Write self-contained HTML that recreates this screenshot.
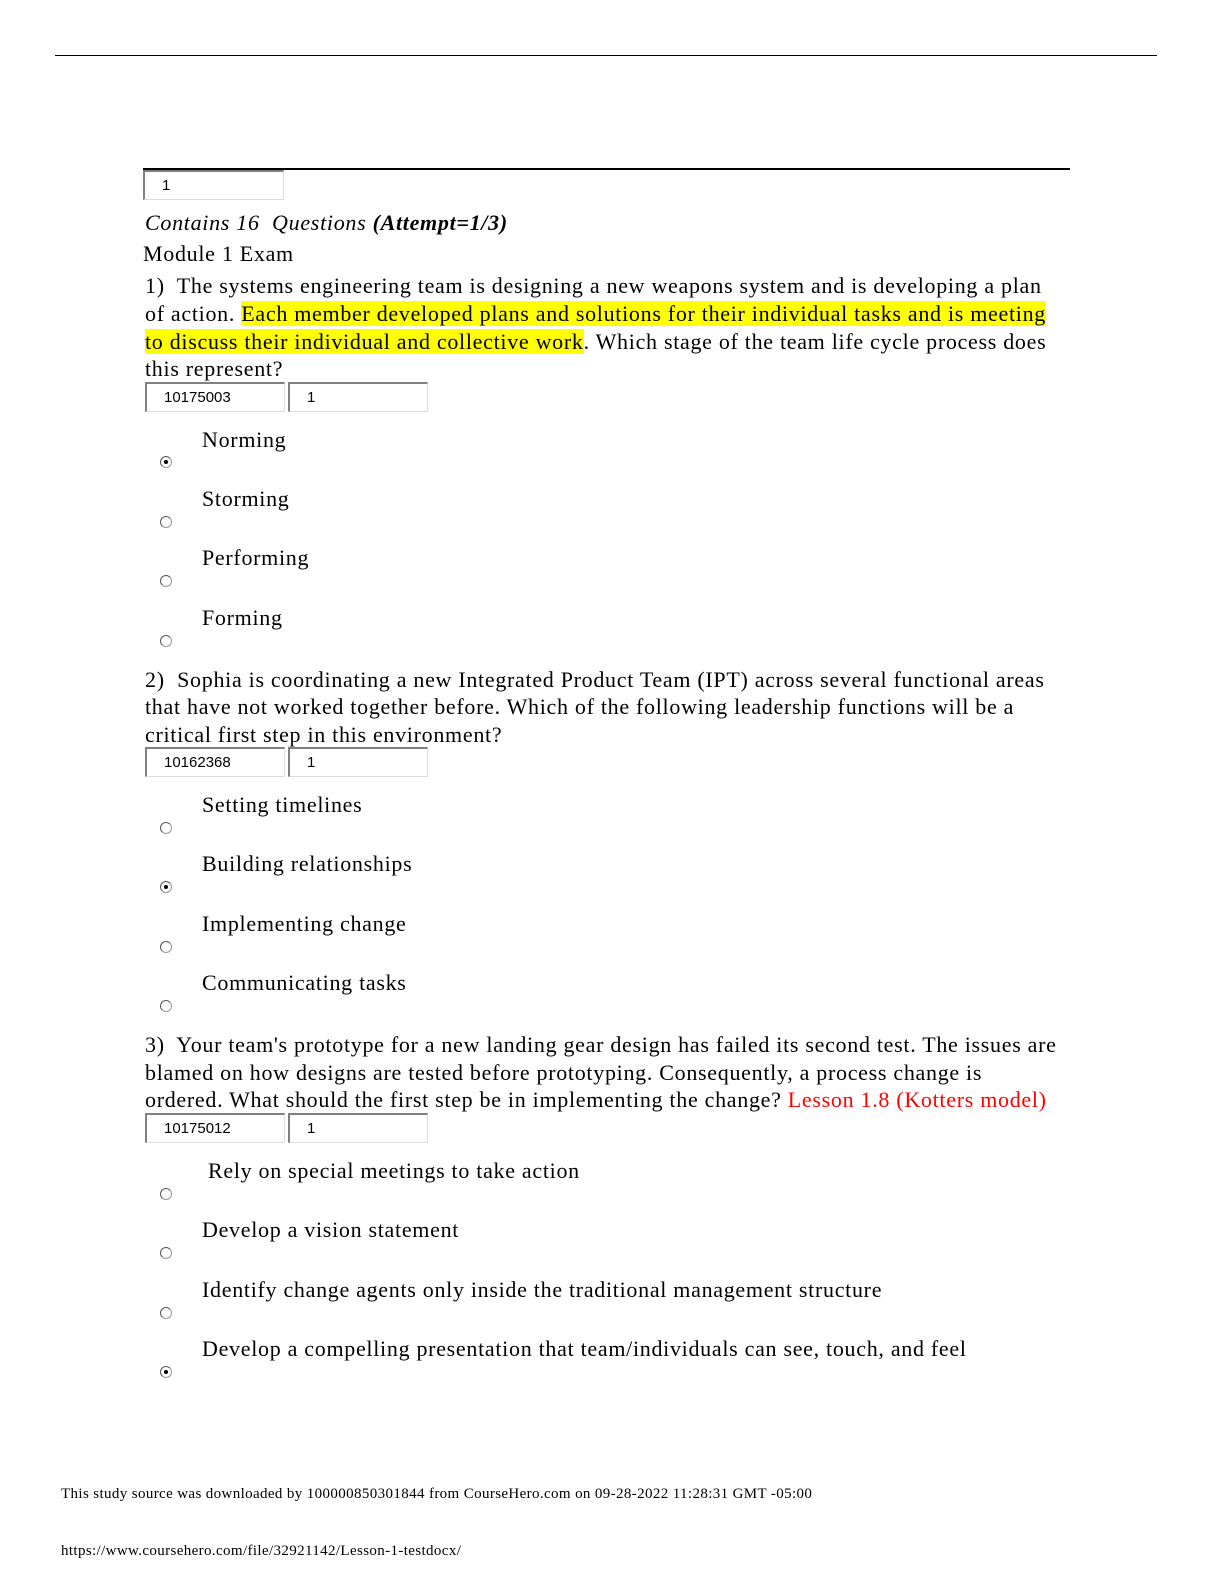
<!DOCTYPE html>
<html><head><style>
body{margin:0;width:1224px;height:1584px;background:#fff;position:relative;overflow:hidden}
.t{position:absolute;left:145px;font-family:"Liberation Serif",serif;font-size:22px;letter-spacing:0.7px;line-height:28px;white-space:nowrap;color:#000}
.o{left:202px}
.hl{background:#ffff00}
.box{position:absolute;height:30px;border-top:2px solid #808080;border-left:2px solid #808080;border-right:1px solid #ddd;border-bottom:1px solid #ddd;font-family:"Liberation Sans",sans-serif;font-size:15px;line-height:28px;box-sizing:border-box;background:#fff}
.r{position:absolute;left:160px;width:12px;height:12px;border-radius:50%;border:1px solid #999;border-top-color:#555;border-left-color:#555;box-sizing:border-box;background:#fff}
.r.on::after{content:"";position:absolute;left:3px;top:3px;width:4px;height:4px;border-radius:50%;background:#000}
.f{position:absolute;left:61px;font-family:"Liberation Serif",serif;font-size:15px;letter-spacing:0.37px;white-space:nowrap}
</style></head><body>
<div style="position:absolute;left:55px;top:55px;width:1102px;height:1px;background:#000"></div>
<div style="position:absolute;left:143px;top:168px;width:927px;height:2px;background:#000"></div>
<div class="box" style="left:143px;top:170px;width:141px;padding-left:17px">1</div>
<div class="t" style="top:209px"><i>Contains 16&nbsp; Questions </i><b><i>(Attempt=1/3)</i></b></div>
<div class="t" style="top:240px;left:143px">Module 1 Exam</div>
<div class="t" style="top:272px">1)&nbsp; The systems engineering team is designing a new weapons system and is developing a plan</div>
<div class="t" style="top:300px">of action. <span class="hl">Each member developed plans and solutions for their individual tasks and is meeting </span></div>
<div class="t" style="top:328px"><span class="hl">to discuss their individual and collective work</span>. Which stage of the team life cycle process does</div>
<div class="t" style="top:355px">this represent?</div>
<div class="box" style="left:145px;top:382px;width:140px;padding-left:17px">10175003</div>
<div class="box" style="left:288px;top:382px;width:140px;padding-left:17px">1</div>
<div class="t o" style="top:426px">Norming</div><div class="r on" style="top:456px"></div>
<div class="t o" style="top:485px">Storming</div><div class="r" style="top:516px"></div>
<div class="t o" style="top:544px">Performing</div><div class="r" style="top:575px"></div>
<div class="t o" style="top:604px">Forming</div><div class="r" style="top:635px"></div>
<div class="t" style="top:666px">2)&nbsp; Sophia is coordinating a new Integrated Product Team (IPT) across several functional areas</div>
<div class="t" style="top:693px">that have not worked together before. Which of the following leadership functions will be a</div>
<div class="t" style="top:721px">critical first step in this environment?</div>
<div class="box" style="left:145px;top:747px;width:140px;padding-left:17px">10162368</div>
<div class="box" style="left:288px;top:747px;width:140px;padding-left:17px">1</div>
<div class="t o" style="top:791px">Setting timelines</div><div class="r" style="top:822px"></div>
<div class="t o" style="top:850px">Building relationships</div><div class="r on" style="top:881px"></div>
<div class="t o" style="top:910px">Implementing change</div><div class="r" style="top:941px"></div>
<div class="t o" style="top:969px">Communicating tasks</div><div class="r" style="top:1000px"></div>
<div class="t" style="top:1031px">3)&nbsp; Your team's prototype for a new landing gear design has failed its second test. The issues are</div>
<div class="t" style="top:1059px">blamed on how designs are tested before prototyping. Consequently, a process change is</div>
<div class="t" style="top:1086px">ordered. What should the first step be in implementing the change? <span style="color:#ff0000">Lesson 1.8 (Kotters model)</span></div>
<div class="box" style="left:145px;top:1113px;width:140px;padding-left:17px">10175012</div>
<div class="box" style="left:288px;top:1113px;width:140px;padding-left:17px">1</div>
<div class="t o" style="top:1157px;left:208px">Rely on special meetings to take action</div><div class="r" style="top:1188px"></div>
<div class="t o" style="top:1216px">Develop a vision statement</div><div class="r" style="top:1247px"></div>
<div class="t o" style="top:1276px">Identify change agents only inside the traditional management structure</div><div class="r" style="top:1307px"></div>
<div class="t o" style="top:1335px">Develop a compelling presentation that team/individuals can see, touch, and feel</div><div class="r on" style="top:1366px"></div>
<div class="f" style="top:1486px">This study source was downloaded by 100000850301844 from CourseHero.com on 09-28-2022 11:28:31 GMT -05:00</div>
<div class="f" style="top:1543px">https://www.coursehero.com/file/32921142/Lesson-1-testdocx/</div>
</body></html>
